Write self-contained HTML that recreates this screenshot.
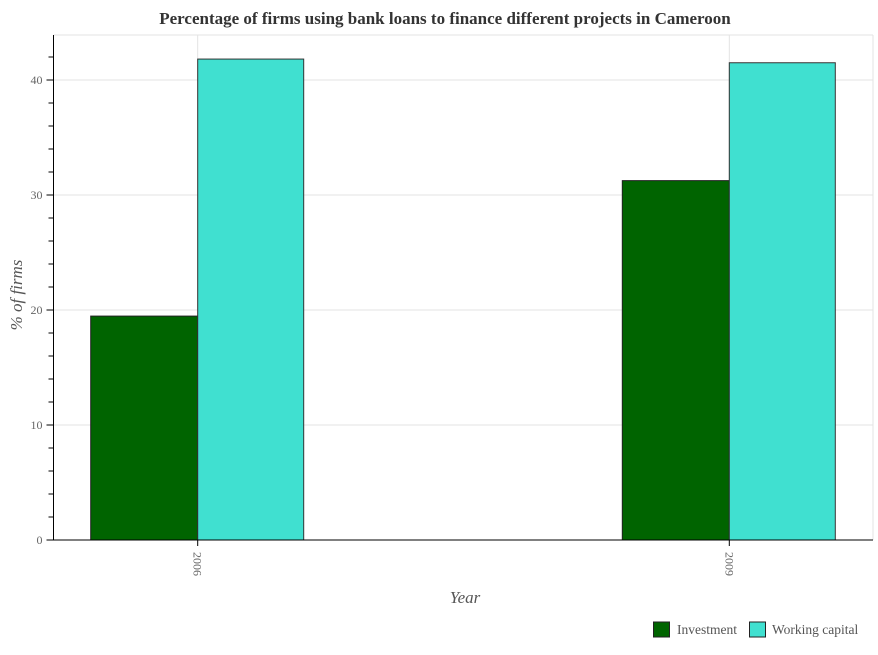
<!DOCTYPE html>
<html><head><meta charset="utf-8"><style>
body{margin:0;background:#fff;font-family:"Liberation Serif",serif}
</style></head><body>
<svg id="c" width="878" height="650" xmlns="http://www.w3.org/2000/svg">
<text x="445" y="24" text-anchor="middle" font-size="17" font-weight="bold" fill="#333">Percentage of firms using bank loans to finance different projects in Cameroon</text>
<g id="grid"></g><g id="bars"></g><g id="axes"></g>
<text x="465" y="603" text-anchor="middle" font-size="17" font-style="italic" fill="#555">Year</text>
<text transform="translate(22,295) rotate(-90)" text-anchor="middle" font-size="17" font-style="italic" fill="#555">% of firms</text>
<g>
<rect x="653.5" y="622" width="16" height="15" fill="#006400" stroke="#222"/>
<text x="677" y="634" font-size="13.5" fill="#555">Investment</text>
<rect x="749.5" y="622" width="16" height="15" fill="#40e0d0" stroke="#222"/>
<text x="772" y="634" font-size="13.5" fill="#555">Working capital</text>
</g>
</svg>
<script>
const categories=["2006","2009"];
const investment=[19.47,31.25];
const workingCapital=[41.82,41.5];
const yTicks=[0,10,20,30,40];
const NS="http://www.w3.org/2000/svg";
const L=53.5,R=873,T=35,B=540;
const y=v=>B-v*11.5;
const cx=i=>197.7+i*531.6;
const bw=107;
function mk(tag,attrs,parent){const e=document.createElementNS(NS,tag);for(const k in attrs)e.setAttribute(k,attrs[k]);document.getElementById(parent).appendChild(e);return e;}
for(let v=0;v<=42;v+=2){if(v%10===0)continue;const l=mk('line',{x1:L-5,x2:L,y1:y(v),y2:y(v),stroke:'#000'},'axes');}
yTicks.forEach(v=>{
 const g=mk('line',{x1:L,x2:R,y1:y(v),y2:y(v),stroke:'#e3e3e3'},'grid');
 
 
 const t=mk('line',{x1:L-7,x2:L,y1:y(v),y2:y(v),stroke:'#000'},'axes');
 
 
 const tx=mk('text',{x:L-11,y:y(v)+4,'text-anchor':'end','font-size':12,fill:'#666'},'axes');
 tx.textContent=v;
 
 
});
const tg=mk('line',{x1:L,x2:R,y1:T,y2:T,stroke:'#e3e3e3'},'grid');


const rg=mk('line',{x1:R,x2:R,y1:T,y2:B,stroke:'#e3e3e3'},'grid');


categories.forEach((c,i)=>{
 const g=mk('line',{x1:cx(i),x2:cx(i),y1:T,y2:B,stroke:'#e3e3e3'},'grid');
 
 
 const b1=mk('rect',{x:cx(i)-bw,y:y(investment[i]),width:bw,height:B-y(investment[i]),fill:'#006400',stroke:'#222'},'bars');
 
 
 const b2=mk('rect',{x:cx(i),y:y(workingCapital[i]),width:bw-1,height:B-y(workingCapital[i]),fill:'#40e0d0',stroke:'#333'},'bars');
 
 
 const t=mk('line',{x1:cx(i),x2:cx(i),y1:B,y2:B+6,stroke:'#000'},'axes');
 
 
 const tx=mk('text',{transform:'translate('+(cx(i)-4)+','+(B+12)+') rotate(90)','font-size':12,fill:'#666'},'axes');
 tx.textContent=c;
 
 
});
const xa=mk('line',{x1:L,x2:R,y1:B,y2:B,stroke:'#000'},'axes');


const ya=mk('line',{x1:L,x2:L,y1:T,y2:B,stroke:'#000'},'axes');


</script>
</body></html>
